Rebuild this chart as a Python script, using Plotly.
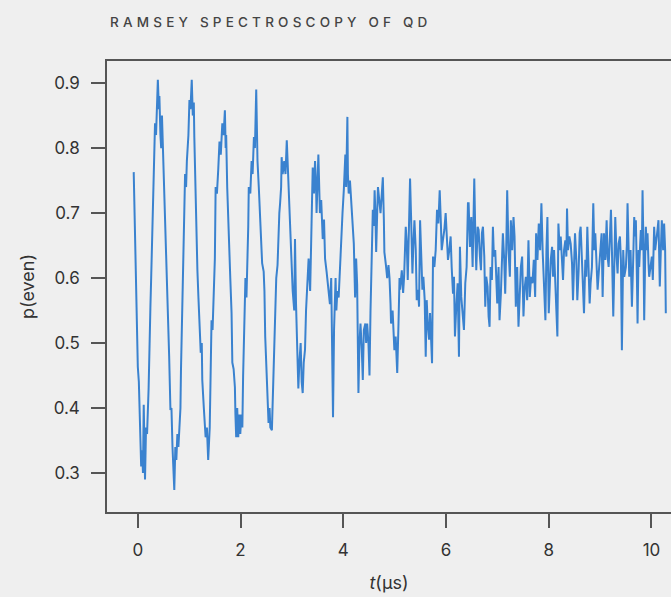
import plotly.graph_objects as go

# --- data (t in microseconds, p(even)) ---
t_early = [-0.08, -0.065, -0.05, -0.025, 0.0, 0.02, 0.03, 0.05, 0.065, 0.085, 0.10, 0.115, 0.13, 0.14, 0.16, 0.18,
           0.21, 0.225, 0.245, 0.26, 0.29, 0.31, 0.325, 0.335, 0.355, 0.375, 0.39, 0.41, 0.42, 0.44, 0.455, 0.47,
           0.49, 0.52, 0.55, 0.585, 0.61, 0.635, 0.655, 0.675, 0.69, 0.71, 0.73, 0.75, 0.77, 0.79, 0.81, 0.83,
           0.84, 0.86, 0.875, 0.895, 0.92, 0.94, 0.955, 0.985, 1.005, 1.025, 1.05, 1.07, 1.09, 1.10, 1.13,
           1.145, 1.16, 1.18, 1.205, 1.225, 1.245, 1.255, 1.285, 1.32, 1.345, 1.37, 1.40, 1.42, 1.435, 1.455,
           1.48, 1.50, 1.515, 1.54, 1.565, 1.58, 1.59, 1.615, 1.645, 1.67, 1.695, 1.71, 1.72, 1.74, 1.76, 1.775,
           1.80, 1.825, 1.84, 1.865, 1.89, 1.90, 1.915, 1.935, 1.955, 1.975, 1.995, 2.015, 2.035, 2.05, 2.065,
           2.085, 2.095, 2.115, 2.135, 2.15, 2.16, 2.19, 2.215, 2.235, 2.26, 2.28, 2.305, 2.315, 2.33, 2.355,
           2.38, 2.40, 2.42, 2.45]
p_early = [0.763, 0.70, 0.612, 0.52, 0.463, 0.44, 0.412, 0.37, 0.31, 0.335, 0.30, 0.405, 0.35, 0.29, 0.37, 0.36,
           0.43, 0.52, 0.555, 0.60, 0.705, 0.74, 0.80, 0.838, 0.82, 0.87, 0.905, 0.86, 0.88, 0.82, 0.80, 0.85,
           0.80, 0.715, 0.64, 0.56, 0.48, 0.397, 0.40, 0.34, 0.31, 0.274, 0.34, 0.32, 0.36, 0.34, 0.37, 0.40,
           0.458, 0.53, 0.592, 0.66, 0.76, 0.74, 0.78, 0.82, 0.874, 0.86, 0.905, 0.85, 0.87, 0.817, 0.70,
           0.68, 0.612, 0.57, 0.52, 0.485, 0.50, 0.443, 0.40, 0.355, 0.37, 0.32, 0.37, 0.45, 0.535, 0.52,
           0.61, 0.63, 0.74, 0.73, 0.766, 0.80, 0.81, 0.79, 0.838, 0.82, 0.858, 0.80, 0.82, 0.74, 0.69, 0.63,
           0.60, 0.546, 0.47, 0.46, 0.432, 0.39, 0.355, 0.40, 0.355, 0.39, 0.36, 0.39, 0.37, 0.45, 0.51,
           0.55, 0.60, 0.57, 0.62, 0.68, 0.74, 0.73, 0.78, 0.76, 0.817, 0.80, 0.89, 0.83, 0.78, 0.74,
           0.70, 0.66, 0.623, 0.61]

t_mid = [2.465, 2.48, 2.50, 2.51, 2.53, 2.545, 2.565, 2.58, 2.61, 2.63, 2.64, 2.665, 2.695, 2.72, 2.74, 2.755,
         2.77, 2.79, 2.80, 2.82, 2.85, 2.875, 2.90, 2.92, 2.93, 2.965, 2.995, 3.015, 3.045, 3.06, 3.08, 3.095,
         3.115, 3.125, 3.145, 3.17, 3.19, 3.21, 3.23, 3.255, 3.275, 3.30, 3.325, 3.355, 3.38, 3.405, 3.43,
         3.45, 3.47, 3.48, 3.515, 3.535, 3.545, 3.57, 3.60, 3.625, 3.645, 3.675, 3.71, 3.74, 3.765,
         3.78, 3.80, 3.82, 3.83, 3.85, 3.865, 3.885, 3.91, 3.935, 3.96, 3.985, 4.01, 4.04, 4.055, 4.08, 4.09,
         4.105, 4.13, 4.155, 4.18, 4.205, 4.23, 4.25, 4.27, 4.295, 4.315, 4.335, 4.36, 4.38, 4.40, 4.43,
         4.445, 4.465, 4.49, 4.51, 4.53, 4.545, 4.565, 4.575, 4.595, 4.61, 4.625, 4.64, 4.66, 4.675, 4.70,
         4.725, 4.75, 4.77, 4.79, 4.80, 4.83, 4.855, 4.88, 4.90, 4.92, 4.93, 4.96, 4.985, 4.995, 5.02, 5.05,
         5.075, 5.095]
p_mid = [0.58, 0.51, 0.47, 0.438, 0.41, 0.377, 0.40, 0.37, 0.366, 0.42, 0.46, 0.52, 0.60, 0.62, 0.674, 0.70,
         0.715, 0.74, 0.786, 0.76, 0.78, 0.76, 0.812, 0.77, 0.75, 0.68, 0.61, 0.58, 0.55, 0.66, 0.56, 0.51,
         0.46, 0.43, 0.47, 0.50, 0.44, 0.423, 0.47, 0.49, 0.55, 0.60, 0.63, 0.58, 0.70, 0.77, 0.73,
         0.78, 0.74, 0.70, 0.79, 0.74, 0.70, 0.72, 0.66, 0.69, 0.63, 0.61, 0.586, 0.56, 0.60,
         0.48, 0.386, 0.52, 0.57, 0.60, 0.55, 0.58, 0.57, 0.62, 0.67, 0.70, 0.735, 0.79, 0.74, 0.848, 0.76,
         0.73, 0.75, 0.72, 0.69, 0.653, 0.57, 0.63, 0.59, 0.423, 0.50, 0.53, 0.49, 0.443, 0.52, 0.53,
         0.50, 0.53, 0.50, 0.45, 0.55, 0.61, 0.66, 0.705, 0.68, 0.735, 0.70, 0.64, 0.70, 0.74, 0.72,
         0.70, 0.73, 0.755, 0.69, 0.64, 0.62, 0.60, 0.62, 0.60, 0.56, 0.53, 0.55, 0.50, 0.489, 0.51, 0.454,
         0.53, 0.60]

t_late1 = [5.106, 5.139, 5.165, 5.184, 5.216, 5.236, 5.255, 5.281, 5.300, 5.320, 5.346, 5.365, 5.385, 5.411,
           5.430, 5.456, 5.475, 5.495, 5.514, 5.540, 5.559, 5.585, 5.605, 5.624, 5.644, 5.670, 5.689, 5.708,
           5.728, 5.747, 5.773, 5.799, 5.825, 5.851, 5.877, 5.896, 5.916, 5.941, 5.967, 5.993, 6.013, 6.038,
           6.064, 6.090, 6.110, 6.136, 6.155, 6.174, 6.200, 6.226, 6.252, 6.271, 6.297, 6.323, 6.349, 6.375,
           6.401, 6.427]
p_late1 = [0.582, 0.612, 0.577, 0.602, 0.679, 0.653, 0.597, 0.694, 0.753, 0.694, 0.607, 0.653, 0.689, 0.643,
           0.566, 0.582, 0.556, 0.689, 0.643, 0.582, 0.602, 0.566, 0.479, 0.566, 0.530, 0.505, 0.546, 0.515,
           0.469, 0.633, 0.617, 0.643, 0.705, 0.684, 0.735, 0.694, 0.643, 0.659, 0.674, 0.700, 0.669, 0.628,
           0.643, 0.664, 0.617, 0.576, 0.602, 0.510, 0.556, 0.592, 0.479, 0.648, 0.571, 0.551, 0.520, 0.592,
           0.617, 0.715]

t_late2 = [6.440, 6.466, 6.492, 6.518, 6.550, 6.570, 6.589, 6.615, 6.635, 6.660, 6.680, 6.699, 6.719,
           6.745, 6.764, 6.783, 6.809, 6.829, 6.848, 6.868, 6.893, 6.913, 6.932, 6.958, 6.978, 6.997, 7.023,
           7.042, 7.068, 7.088, 7.107, 7.133, 7.152, 7.172, 7.191, 7.217, 7.243, 7.262, 7.288, 7.314, 7.334,
           7.359, 7.385, 7.411, 7.431, 7.457, 7.482, 7.508, 7.528, 7.554, 7.580, 7.605, 7.631, 7.657, 7.683,
           7.709, 7.735]
p_late2 = [0.715, 0.648, 0.694, 0.617, 0.753, 0.669, 0.612, 0.679, 0.674, 0.633, 0.612, 0.669, 0.679,
           0.633, 0.556, 0.602, 0.587, 0.541, 0.525, 0.617, 0.597, 0.679, 0.633, 0.643, 0.592, 0.561, 0.617,
           0.535, 0.576, 0.617, 0.669, 0.628, 0.576, 0.643, 0.735, 0.643, 0.602, 0.689, 0.643, 0.694, 0.664,
           0.556, 0.617, 0.525, 0.582, 0.617, 0.633, 0.541, 0.582, 0.602, 0.566, 0.658, 0.571, 0.602, 0.592,
           0.628, 0.571]

t_late3 = [7.754, 7.780, 7.806, 7.832, 7.857, 7.883, 7.909, 7.935, 7.955, 7.974, 8.000, 8.019, 8.039,
           8.065, 8.084, 8.103, 8.129, 8.149, 8.168, 8.188, 8.213, 8.233, 8.259, 8.278, 8.298, 8.323, 8.343,
           8.356, 8.375, 8.401, 8.427, 8.453, 8.472, 8.492, 8.511, 8.537, 8.556, 8.582, 8.602, 8.621, 8.647,
           8.666, 8.686, 8.712, 8.731, 8.751, 8.776, 8.796, 8.815, 8.841, 8.867, 8.887, 8.906, 8.932, 8.951,
           8.977, 9.003, 9.029]
p_late3 = [0.669, 0.628, 0.684, 0.643, 0.715, 0.638, 0.592, 0.535, 0.643, 0.694, 0.546, 0.602, 0.628,
           0.648, 0.602, 0.643, 0.597, 0.566, 0.510, 0.684, 0.643, 0.664, 0.628, 0.597, 0.643, 0.658, 0.633,
           0.707, 0.643, 0.664, 0.653, 0.623, 0.566, 0.633, 0.669, 0.628, 0.566, 0.612, 0.669, 0.679, 0.612,
           0.582, 0.546, 0.628, 0.602, 0.679, 0.617, 0.561, 0.592, 0.617, 0.715, 0.643, 0.669, 0.612, 0.582,
           0.612, 0.643, 0.669]

t_late4 = [9.049, 9.075, 9.101, 9.127, 9.146, 9.166, 9.191, 9.211, 9.230, 9.256, 9.276, 9.295, 9.321,
           9.340, 9.360, 9.386, 9.405, 9.424, 9.450, 9.470, 9.502, 9.521, 9.534, 9.554, 9.567, 9.593, 9.619,
           9.644, 9.664, 9.683, 9.696, 9.716, 9.729, 9.748, 9.761, 9.780, 9.793, 9.813, 9.826, 9.845, 9.858,
           9.877, 9.890, 9.910, 9.923, 9.942, 9.955, 9.981, 10.007, 10.026, 10.052, 10.072, 10.098, 10.117,
           10.136, 10.149, 10.162, 10.182, 10.201, 10.227, 10.246, 10.266, 10.279]
p_late4 = [0.571, 0.669, 0.628, 0.689, 0.633, 0.617, 0.664, 0.705, 0.643, 0.541, 0.617, 0.694, 0.633,
           0.607, 0.653, 0.664, 0.628, 0.489, 0.643, 0.602, 0.617, 0.653, 0.715, 0.653, 0.602, 0.643, 0.556,
           0.628, 0.694, 0.664, 0.689, 0.602, 0.530, 0.643, 0.617, 0.653, 0.674, 0.643, 0.735, 0.643, 0.535,
           0.633, 0.679, 0.643, 0.669, 0.623, 0.602, 0.617, 0.633, 0.597, 0.679, 0.643, 0.658, 0.674,
           0.689, 0.628, 0.587, 0.643, 0.689, 0.643, 0.684, 0.643, 0.546]

x_ticks = [0, 2, 4, 6, 8, 10]
y_ticks = [0.3, 0.4, 0.5, 0.6, 0.7, 0.8, 0.9]

t_all = t_early + t_mid + t_late1 + t_late2 + t_late3 + t_late4
p_all = p_early + p_mid + p_late1 + p_late2 + p_late3 + p_late4

FONT = "Inter"
BG = "#efefef"
AX = "#555555"

fig = go.Figure(go.Scatter(x=t_all, y=p_all, mode="lines",
                           line=dict(color="#3a82cf", width=2), showlegend=False))

fig.update_layout(
    width=671, height=597,
    margin=dict(l=107, r=0, t=61, b=85),
    paper_bgcolor=BG, plot_bgcolor=BG,
    font=dict(family=FONT, color="#333333"),
    title=dict(text='<span style="letter-spacing:4.2px">RAMSEY SPECTROSCOPY OF QD</span>',
               font=dict(family=FONT, size=13.5, color="#444444", weight=500),
               xref="container", yref="container", x=110 / 671, xanchor="left",
               y=1 - 22 / 597, yanchor="middle"),
)
fig.update_xaxes(range=[-0.60, 10.38], tickvals=x_ticks, ticks="outside", ticklen=14, tickwidth=1.5,
                 tickcolor=AX, showline=True, linecolor=AX, linewidth=1.5, mirror=True,
                 showgrid=False, zeroline=False, ticklabelstandoff=8,
                 tickfont=dict(family=FONT, size=17, color="#333333"),
                 title=dict(text="<i>t</i>(μs)", font=dict(family=FONT, size=18, color="#333333"), standoff=17))
fig.update_yaxes(range=[0.24, 0.934], tickvals=y_ticks, ticktext=[f"{v:.1f}" for v in y_ticks],
                 ticks="outside", ticklen=14, tickwidth=1.5,
                 tickcolor=AX, showline=True, linecolor=AX, linewidth=1.5, mirror=False,
                 showgrid=False, zeroline=False, ticklabelstandoff=8,
                 tickfont=dict(family=FONT, size=17, color="#333333"),
                 title=dict(text="p(even)", font=dict(family=FONT, size=18, color="#333333"), standoff=14))

fig.write_html("out.html", config={"displayModeBar": False},
               post_script="document.body.style.margin='0';document.body.style.background='#efefef';"
                           "document.documentElement.style.overflow='hidden';")
